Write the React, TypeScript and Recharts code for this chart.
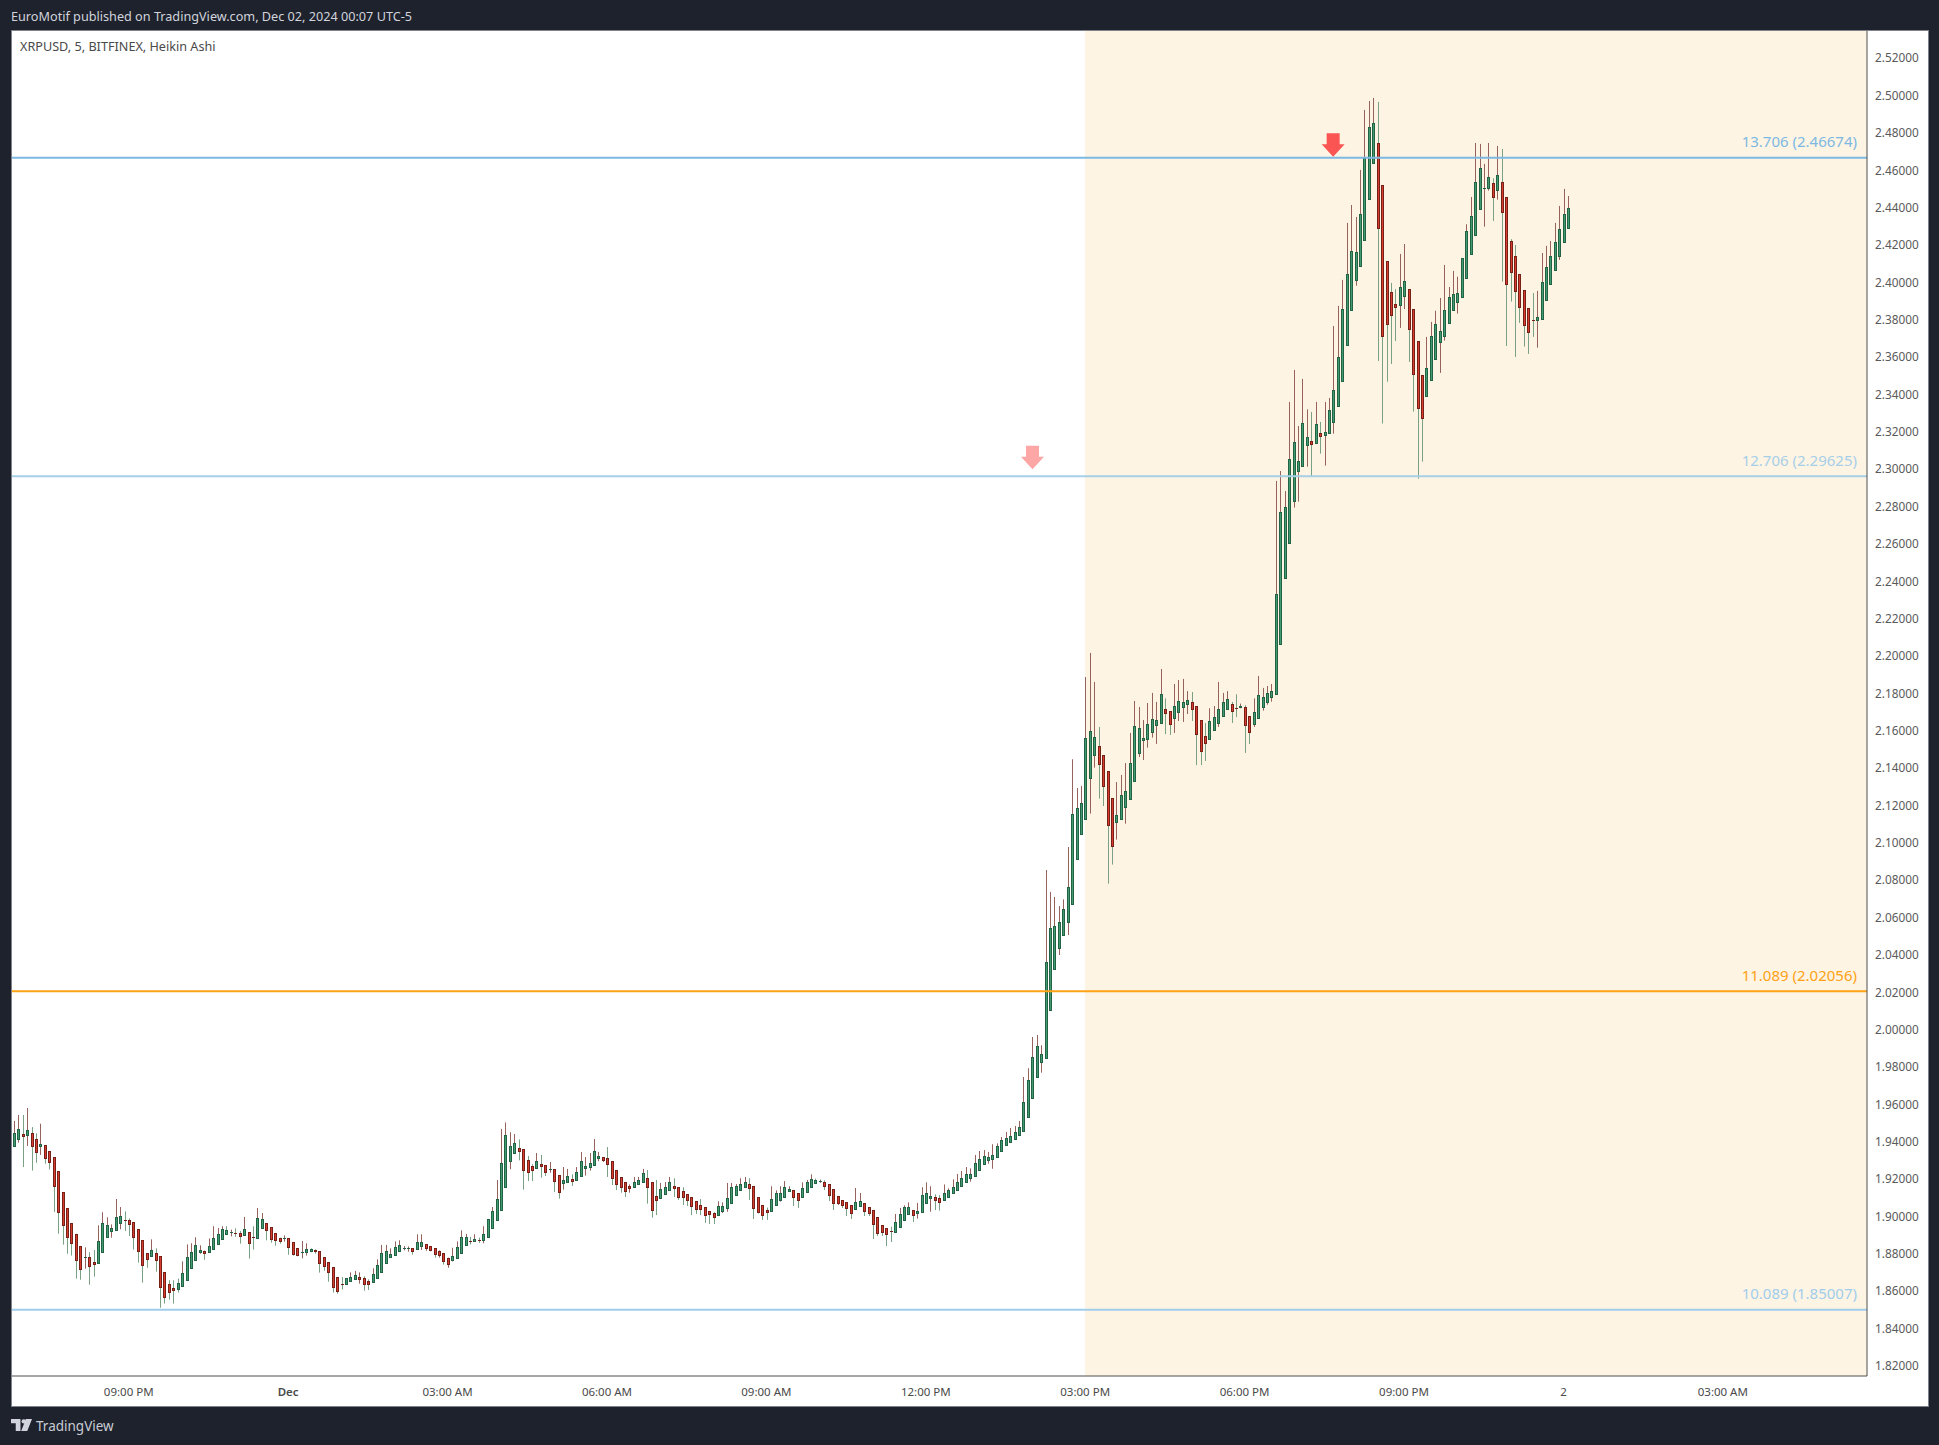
import React from 'react';
import { ComposedChart, Bar, XAxis, YAxis, ReferenceLine, ReferenceArea, ReferenceDot } from 'recharts';

const FONT = '"Noto Sans", sans-serif';

// 5 minute Heikin Ashi candles, one per index
const opens = [
  1.9379,1.9412,1.9440,1.9433,1.9446,1.9413,1.9374,1.9381,1.9349,1.9317,
  1.9242,1.9130,1.9044,1.8964,1.8908,1.8841,1.8780,1.8782,1.8755,1.8748,
  1.8807,1.8887,1.8919,1.8924,1.8962,1.8980,1.8980,1.8969,1.8932,1.8873,
  1.8803,1.8785,1.8803,1.8787,1.8701,1.8637,1.8616,1.8609,1.8625,1.8657,
  1.8721,1.8764,1.8807,1.8814,1.8807,1.8823,1.8849,1.8876,1.8903,1.8914,
  1.8910,1.8910,1.8898,1.8916,1.8889,1.8883,1.8935,1.8964,1.8942,1.8910,
  1.8887,1.8882,1.8883,1.8862,1.8830,1.8807,1.8807,1.8812,1.8819,1.8814,
  1.8782,1.8755,1.8728,1.8675,1.8637,1.8637,1.8651,1.8664,1.8675,1.8669,
  1.8653,1.8646,1.8668,1.8700,1.8750,1.8782,1.8792,1.8814,1.8828,1.8828,
  1.8830,1.8825,1.8841,1.8851,1.8841,1.8830,1.8814,1.8803,1.8780,1.8764,
  1.8776,1.8803,1.8846,1.8867,1.8867,1.8873,1.8873,1.8889,1.8937,1.8980,
  1.9033,1.9156,1.9296,1.9339,1.9365,1.9360,1.9301,1.9269,1.9256,1.9280,
  1.9274,1.9251,1.9253,1.9221,1.9176,1.9181,1.9199,1.9194,1.9214,1.9256,
  1.9262,1.9272,1.9310,1.9317,1.9312,1.9296,1.9248,1.9210,1.9183,1.9162,
  1.9155,1.9172,1.9181,1.9205,1.9183,1.9108,1.9098,1.9117,1.9139,1.9162,
  1.9157,1.9135,1.9119,1.9103,1.9082,1.9060,1.9049,1.9028,1.9017,1.9005,
  1.9026,1.9042,1.9069,1.9114,1.9139,1.9155,1.9172,1.9162,1.9103,1.9060,
  1.9033,1.9026,1.9058,1.9089,1.9106,1.9133,1.9140,1.9124,1.9101,1.9128,
  1.9155,1.9178,1.9187,1.9183,1.9172,1.9146,1.9108,1.9087,1.9076,1.9060,
  1.9037,1.9053,1.9071,1.9049,1.9033,1.8996,1.8953,1.8937,1.8921,1.8914,
  1.8941,1.8978,1.9010,1.9033,1.9016,1.9021,1.9069,1.9096,1.9103,1.9098,
  1.9085,1.9103,1.9123,1.9140,1.9160,1.9181,1.9205,1.9214,1.9248,1.9280,
  1.9299,1.9305,1.9317,1.9349,1.9381,1.9397,1.9413,1.9435,1.9456,1.9529,
  1.9631,1.9744,1.9824,1.9847,2.0104,2.0324,2.0434,2.0506,2.0573,2.0670,
  2.0912,2.1046,2.1127,2.1346,2.1467,2.1517,2.1469,2.1383,2.1239,2.1110,
  2.1125,2.1191,2.1234,2.1330,2.1480,2.1549,2.1555,2.1592,2.1630,2.1640,
  2.1715,2.1705,2.1667,2.1699,2.1726,2.1742,2.1753,2.1731,2.1656,2.1571,
  2.1555,2.1603,2.1640,2.1678,2.1715,2.1742,2.1721,2.1721,2.1726,2.1678,
  2.1635,2.1667,2.1724,2.1751,2.1780,2.1796,2.2063,2.2417,2.2604,2.2827,
  2.2989,2.3016,2.3129,2.3150,2.3139,2.3193,2.3182,2.3193,2.3252,2.3337,
  2.3471,2.3664,2.3851,2.4012,2.4087,2.4226,2.4446,2.4638,2.4745,2.4520,
  2.4114,2.3948,2.3883,2.3878,2.3926,2.3964,2.3857,2.3685,2.3503,2.3391,
  2.3477,2.3589,2.3680,2.3711,2.3782,2.3851,2.3894,2.3921,2.4023,2.4151,
  2.4253,2.4392,2.4503,2.4504,2.4531,2.4494,2.4537,2.4456,2.4221,2.4140,
  2.4044,2.3958,2.3861,2.3798,2.3798,2.3803,2.3905,2.3991,2.4065,2.4139,2.4215,2.4290,
];

const closes = [
  1.9446,1.9467,1.9428,1.9462,1.9379,1.9342,1.9387,1.9310,1.9288,1.9160,
  1.9021,1.8951,1.8887,1.8855,1.8769,1.8716,1.8782,1.8732,1.8743,1.8867,
  1.8964,1.8953,1.8937,1.8996,1.9001,1.8978,1.8957,1.8887,1.8812,1.8737,
  1.8769,1.8819,1.8764,1.8619,1.8566,1.8593,1.8603,1.8643,1.8696,1.8782,
  1.8809,1.8846,1.8819,1.8801,1.8841,1.8883,1.8905,1.8932,1.8926,1.8916,
  1.8908,1.8892,1.8932,1.8855,1.8887,1.8991,1.8985,1.8924,1.8876,1.8871,
  1.8871,1.8883,1.8833,1.8796,1.8791,1.8809,1.8825,1.8825,1.8809,1.8748,
  1.8732,1.8700,1.8619,1.8598,1.8635,1.8669,1.8675,1.8685,1.8664,1.8635,
  1.8635,1.8691,1.8739,1.8803,1.8814,1.8798,1.8835,1.8846,1.8830,1.8830,
  1.8812,1.8862,1.8862,1.8830,1.8819,1.8798,1.8791,1.8759,1.8748,1.8787,
  1.8835,1.8889,1.8889,1.8866,1.8878,1.8871,1.8905,1.8985,1.9028,1.9092,
  1.9285,1.9435,1.9376,1.9392,1.9349,1.9246,1.9235,1.9246,1.9296,1.9267,
  1.9235,1.9253,1.9187,1.9128,1.9194,1.9215,1.9187,1.9237,1.9296,1.9269,
  1.9285,1.9349,1.9322,1.9299,1.9278,1.9203,1.9171,1.9155,1.9133,1.9149,
  1.9183,1.9194,1.9231,1.9155,1.9032,1.9085,1.9146,1.9157,1.9183,1.9149,
  1.9106,1.9101,1.9085,1.9053,1.9037,1.9037,1.9005,1.9010,1.8994,1.9055,
  1.9055,1.9098,1.9157,1.9162,1.9172,1.9183,1.9151,1.9042,1.9021,1.9005,
  1.9021,1.9092,1.9124,1.9124,1.9157,1.9146,1.9101,1.9085,1.9151,1.9183,
  1.9199,1.9194,1.9189,1.9160,1.9112,1.9069,1.9069,1.9058,1.9042,1.9016,
  1.9076,1.9082,1.9026,1.9016,1.8957,1.8908,1.8914,1.8903,1.8919,1.8969,
  1.9012,1.9049,1.9049,1.9005,1.9028,1.9114,1.9124,1.9108,1.9085,1.9074,
  1.9124,1.9140,1.9157,1.9183,1.9205,1.9226,1.9226,1.9285,1.9306,1.9322,
  1.9317,1.9328,1.9376,1.9408,1.9419,1.9429,1.9451,1.9478,1.9611,1.9729,
  1.9852,1.9911,1.9868,2.0361,2.0543,2.0554,2.0575,2.0645,2.0762,2.1153,
  2.1185,2.1212,2.1560,2.1597,2.1565,2.1419,2.1303,2.1094,2.0982,2.1148,
  2.1255,2.1276,2.1426,2.1624,2.1614,2.1560,2.1635,2.1662,2.1656,2.1796,
  2.1694,2.1635,2.1731,2.1758,2.1753,2.1763,2.1715,2.1581,2.1490,2.1533,
  2.1651,2.1673,2.1715,2.1753,2.1769,2.1705,2.1719,2.1731,2.1630,2.1592,
  2.1699,2.1790,2.1780,2.1801,2.1812,2.2331,2.2770,2.2797,2.3054,2.3145,
  2.3043,2.3246,2.3171,2.3134,2.3241,2.3177,2.3198,2.3316,2.3423,2.3600,
  2.3858,2.4046,2.4167,2.4162,2.4365,2.4665,2.4831,2.4852,2.4289,2.3712,
  2.3777,2.3825,2.3866,2.3974,2.4006,2.3750,2.3509,2.3326,2.3271,2.3541,
  2.3714,2.3776,2.3738,2.3851,2.3921,2.3937,2.3942,2.4130,2.4274,2.4355,
  2.4537,2.4611,2.4504,2.4563,2.4456,2.4574,2.4376,2.3991,2.4053,2.3953,
  2.3866,2.3769,2.3732,2.3796,2.3814,2.4001,2.4081,2.4140,2.4215,2.4285,2.4365,2.4397,
];

const highs = [
  1.9512,1.9544,1.9544,1.9581,1.9479,1.9446,1.9497,1.9381,1.9349,1.9317,
  1.9242,1.9130,1.9044,1.8964,1.8908,1.8841,1.8835,1.8809,1.8821,1.8953,
  1.9023,1.8996,1.8958,1.9094,1.9051,1.9028,1.8990,1.8969,1.8932,1.8873,
  1.8803,1.8878,1.8830,1.8787,1.8701,1.8659,1.8659,1.8668,1.8760,1.8851,
  1.8857,1.8889,1.8846,1.8819,1.8883,1.8948,1.8939,1.8948,1.8948,1.8930,
  1.8937,1.8923,1.8998,1.8916,1.8948,1.9046,1.9019,1.8964,1.8942,1.8910,
  1.8887,1.8899,1.8883,1.8862,1.8830,1.8869,1.8857,1.8830,1.8825,1.8814,
  1.8782,1.8755,1.8728,1.8675,1.8676,1.8669,1.8701,1.8709,1.8701,1.8680,
  1.8664,1.8723,1.8771,1.8848,1.8848,1.8830,1.8867,1.8873,1.8842,1.8840,
  1.8830,1.8905,1.8905,1.8851,1.8841,1.8830,1.8819,1.8803,1.8780,1.8833,
  1.8867,1.8926,1.8907,1.8891,1.8905,1.8887,1.8948,1.8985,1.9051,1.9196,
  1.9469,1.9504,1.9451,1.9442,1.9413,1.9360,1.9324,1.9280,1.9340,1.9330,
  1.9274,1.9292,1.9253,1.9221,1.9265,1.9255,1.9226,1.9265,1.9346,1.9319,
  1.9340,1.9415,1.9346,1.9317,1.9372,1.9296,1.9248,1.9210,1.9183,1.9172,
  1.9212,1.9212,1.9255,1.9249,1.9183,1.9196,1.9180,1.9185,1.9212,1.9205,
  1.9157,1.9157,1.9119,1.9103,1.9082,1.9094,1.9049,1.9028,1.9023,1.9082,
  1.9076,1.9180,1.9180,1.9174,1.9205,1.9212,1.9205,1.9162,1.9103,1.9060,
  1.9048,1.9162,1.9140,1.9162,1.9190,1.9162,1.9140,1.9124,1.9183,1.9196,
  1.9226,1.9203,1.9198,1.9194,1.9172,1.9146,1.9108,1.9087,1.9076,1.9060,
  1.9153,1.9126,1.9071,1.9049,1.9033,1.8996,1.8953,1.8937,1.8946,1.9014,
  1.9046,1.9060,1.9076,1.9033,1.9073,1.9157,1.9183,1.9162,1.9119,1.9114,
  1.9172,1.9151,1.9199,1.9228,1.9244,1.9265,1.9258,1.9330,1.9351,1.9356,
  1.9346,1.9387,1.9392,1.9426,1.9453,1.9474,1.9485,1.9512,1.9747,1.9794,
  1.9961,1.9972,1.9917,2.0855,2.0738,2.0711,2.0662,2.0698,2.0978,2.1448,
  2.1294,2.1305,2.1888,2.2017,2.1862,2.1621,2.1469,2.1383,2.1239,2.1326,
  2.1364,2.1428,2.1589,2.1760,2.1728,2.1658,2.1749,2.1803,2.1755,2.1931,
  2.1774,2.1705,2.1851,2.1872,2.1878,2.1813,2.1808,2.1731,2.1656,2.1642,
  2.1721,2.1733,2.1862,2.1803,2.1813,2.1755,2.1796,2.1746,2.1737,2.1678,
  2.1774,2.1894,2.1830,2.1840,2.1851,2.2938,2.2991,2.2884,2.3361,2.3532,
  2.3232,2.3484,2.3321,2.3307,2.3361,2.3254,2.3361,2.3382,2.3767,2.3875,
  2.4014,2.4319,2.4415,2.4351,2.4603,2.4924,2.4972,2.4988,2.4967,2.4520,
  2.4114,2.3998,2.3964,2.4153,2.4206,2.3964,2.3857,2.3685,2.3503,2.3709,
  2.3789,2.3849,2.3917,2.4094,2.3976,2.4062,2.4031,2.4130,2.4312,2.4458,
  2.4747,2.4742,2.4635,2.4747,2.4558,2.4731,2.4715,2.4456,2.4232,2.4201,
  2.4044,2.3958,2.3861,2.3944,2.3955,2.4158,2.4196,2.4222,2.4319,2.4410,2.4501,2.4463,
];

const lows = [
  1.9379,1.9396,1.9265,1.9378,1.9246,1.9288,1.9330,1.9283,1.9252,1.9024,
  1.8908,1.8850,1.8801,1.8791,1.8668,1.8662,1.8721,1.8635,1.8678,1.8748,
  1.8807,1.8887,1.8887,1.8924,1.8932,1.8923,1.8896,1.8823,1.8753,1.8646,
  1.8726,1.8785,1.8705,1.8512,1.8534,1.8555,1.8534,1.8593,1.8625,1.8657,
  1.8721,1.8764,1.8801,1.8769,1.8807,1.8823,1.8849,1.8876,1.8901,1.8894,
  1.8891,1.8855,1.8898,1.8775,1.8823,1.8883,1.8935,1.8873,1.8860,1.8844,
  1.8855,1.8866,1.8796,1.8791,1.8787,1.8776,1.8791,1.8809,1.8801,1.8700,
  1.8710,1.8651,1.8593,1.8587,1.8609,1.8635,1.8651,1.8662,1.8641,1.8603,
  1.8607,1.8646,1.8668,1.8700,1.8750,1.8782,1.8792,1.8814,1.8819,1.8812,
  1.8796,1.8821,1.8821,1.8817,1.8814,1.8780,1.8780,1.8743,1.8726,1.8760,
  1.8776,1.8803,1.8846,1.8851,1.8866,1.8858,1.8857,1.8889,1.8937,1.8980,
  1.9033,1.9156,1.9253,1.9339,1.9301,1.9144,1.9190,1.9190,1.9256,1.9208,
  1.9217,1.9235,1.9132,1.9096,1.9144,1.9181,1.9164,1.9194,1.9214,1.9219,
  1.9246,1.9272,1.9296,1.9292,1.9212,1.9169,1.9142,1.9128,1.9105,1.9128,
  1.9155,1.9172,1.9181,1.9069,1.8994,1.9008,1.9098,1.9117,1.9139,1.9105,
  1.9089,1.9062,1.9057,1.9008,1.9014,1.9008,1.8966,1.8960,1.8960,1.9005,
  1.9019,1.9026,1.9069,1.9114,1.9139,1.9155,1.9089,1.8987,1.9016,1.8982,
  1.8982,1.9026,1.9058,1.9080,1.9106,1.9133,1.9057,1.9046,1.9101,1.9128,
  1.9155,1.9176,1.9180,1.9142,1.9083,1.9035,1.9062,1.9046,1.9003,1.8987,
  1.9037,1.9053,1.9003,1.9003,1.8880,1.8896,1.8896,1.8842,1.8864,1.8914,
  1.8941,1.8978,1.9010,1.8971,1.8989,1.9021,1.9069,1.9026,1.9035,1.9032,
  1.9085,1.9103,1.9123,1.9140,1.9160,1.9181,1.9187,1.9214,1.9248,1.9280,
  1.9283,1.9256,1.9317,1.9349,1.9381,1.9397,1.9413,1.9435,1.9456,1.9529,
  1.9631,1.9744,1.9770,1.9847,2.0104,2.0324,2.0400,2.0506,2.0507,2.0670,
  2.0912,2.1046,2.1127,2.1157,2.1403,2.1237,2.1198,2.0782,2.0884,2.1018,
  2.1125,2.1103,2.1234,2.1330,2.1460,2.1444,2.1510,2.1564,2.1530,2.1640,
  2.1583,2.1578,2.1589,2.1653,2.1648,2.1690,2.1653,2.1417,2.1417,2.1439,
  2.1555,2.1603,2.1621,2.1678,2.1715,2.1642,2.1674,2.1721,2.1482,2.1530,
  2.1621,2.1667,2.1708,2.1740,2.1756,2.1796,2.2063,2.2417,2.2604,2.2795,
  2.2827,2.3016,2.3014,2.2961,2.3139,2.3084,2.3020,2.3193,2.3191,2.3337,
  2.3471,2.3664,2.3851,2.3983,2.4087,2.4226,2.4446,2.4638,2.3580,2.3245,
  2.3469,2.3564,2.3687,2.3757,2.3858,2.3575,2.3309,2.2950,2.3041,2.3391,
  2.3477,2.3589,2.3516,2.3689,2.3782,2.3851,2.3834,2.3921,2.4023,2.4151,
  2.4253,2.4392,2.4299,2.4492,2.4330,2.4444,2.4005,2.3660,2.3898,2.3602,
  2.3784,2.3657,2.3618,2.3709,2.3651,2.3803,2.3905,2.3991,2.4065,2.4121,2.4215,2.4290,
];

// candles whose wick has the same colour as the body (normally it is the opposite one)
const sameColourWicks = [37, 48, 67, 75, 78, 93, 96, 98, 133, 139, 181, 186];

const priceTicks = [
  1.82, 1.84, 1.86, 1.88, 1.90, 1.92, 1.94, 1.96, 1.98, 2.00, 2.02, 2.04, 2.06, 2.08, 2.10, 2.12, 2.14, 2.16,
  2.18, 2.20, 2.22, 2.24, 2.26, 2.28, 2.30, 2.32, 2.34, 2.36, 2.38, 2.40, 2.42, 2.44, 2.46, 2.48, 2.50, 2.52,
];
const timeTicks = [26, 62, 98, 134, 170, 206, 242, 278, 314, 350, 386];
const timeLabels = ['09:00 PM', 'Dec', '03:00 AM', '06:00 AM', '09:00 AM', '12:00 PM', '03:00 PM', '06:00 PM', '09:00 PM', '2', '03:00 AM'];

const levelPrices = [2.46674, 2.29625, 2.02056, 1.85007];
const levelLabels = ['13.706 (2.46674)', '12.706 (2.29625)', '11.089 (2.02056)', '10.089 (1.85007)'];
const levelColors = ['#7db8e2', '#a6cfe8', '#ffa215', '#a0cdec'];

const arrowIndexes = [298, 230.1];
const arrowPrices = [2.4673, 2.3];
const arrowColors = ['#fa5553', '#fca6a5'];

const candles = opens.map((open, i) => ({ idx: i, open, close: closes[i], high: highs[i], low: lows[i] }));

const X_DOMAIN = [-0.365, 418.56];
const Y_DOMAIN = [1.81465, 2.53464];
const ZONE_START = 241.95;

const GREEN = { fill: '#429a70', border: '#226245', wick: '#7aa085' };
const RED = { fill: '#d83c2e', border: '#762018', wick: '#96625c' };

function Candle(props: any) {
  const { x, y, width, height, payload } = props;
  const { open, close, high, low, idx } = payload;
  const top = Math.min(y, y + height);
  const range = Math.abs(height);
  const cx = Math.round(x + width / 2) + 0.5;
  const pxPerPrice = range / (high - low || 1);
  const bodyTop = top + (high - Math.max(open, close)) * pxPerPrice;
  const bodyH = Math.abs(open - close) * pxPerPrice;
  const up = close >= open;
  const c = up ? GREEN : RED;
  const wickSame = sameColourWicks.includes(idx);
  const wick = up === wickSame ? GREEN.wick : RED.wick;

  // 도지는 가로 막대로만 보인다
  if (bodyH < 2) {
    return (
      <g>
        <line x1={cx} x2={cx} y1={top} y2={top + range} stroke={wick} />
        <rect x={cx - 1.5} y={Math.round(bodyTop)} width={3} height={Math.max(1, Math.round(bodyH))} fill={c.border} shapeRendering="crispEdges" />
      </g>
    );
  }
  return (
    <g>
      <line x1={cx} x2={cx} y1={top} y2={top + range} stroke={wick} />
      <rect x={cx - 1} y={Math.round(bodyTop) + 0.5} width={2} height={Math.round(bodyH)} fill={c.fill} stroke={c.border} shapeRendering="crispEdges" />
    </g>
  );
}

function Arrow({ cx, cy, color }: any) {
  const d = `M${cx - 6.5} ${cy - 23.5} H${cx + 6.5} V${cy - 12.5} H${cx + 11.5} L${cx} ${cy} L${cx - 11.5} ${cy - 12.5} H${cx - 6.5} Z`;
  return <path d={d} fill={color} />;
}

function LevelLabel({ viewBox, text, color }: any) {
  return (
    <text x={viewBox.x + viewBox.width - 10} y={viewBox.y - 16} dy="0.35em" textAnchor="end" fill={color} fontSize={15} fontFamily={FONT}>
      {text}
    </text>
  );
}

function TimeTick({ x, y, payload }: any) {
  const label = timeLabels[timeTicks.indexOf(payload.value)];
  return (
    <text x={x} y={y + 12} textAnchor="middle" fill="#4a4a4a" fontSize={11.5} fontFamily={FONT} fontWeight={label === 'Dec' ? 600 : 400}>
      {label}
    </text>
  );
}

function PriceTick({ x, y, payload }: any) {
  return (
    <text x={x} y={y} dy="0.35em" fill="#5a5a5a" fontSize={11.8} fontFamily={FONT}>
      {payload.value.toFixed(5)}
    </text>
  );
}

export default function App() {
  return (
    <div style={{ position: 'absolute', left: 0, top: 0, width: 1939, height: 1445, background: '#1e222d', fontFamily: FONT, overflow: 'hidden' }}>
      <div style={{ position: 'absolute', left: 11, top: 7, color: '#d1d4dc', fontSize: 12.66, whiteSpace: 'nowrap' }}>
        EuroMotif published on TradingView.com, Dec 02, 2024 00:07 UTC-5
      </div>
      <div style={{ position: 'absolute', left: 11, top: 30, width: 1916, height: 1375, background: '#fff', border: '1px solid #7f828b' }} />
      <div style={{ position: 'absolute', left: 0, top: 0 }}>
        <ComposedChart
          width={1939}
          height={1445}
          data={candles}
          margin={{ top: 31, left: 12, right: 11, bottom: 39 }}
        >
          <XAxis
            type="number"
            dataKey="idx"
            domain={X_DOMAIN}
            allowDataOverflow
            ticks={timeTicks}
            tick={<TimeTick />}
            tickLine={false}
            height={30}
            stroke="#4e4e4e"
          />
          <YAxis
            type="number"
            orientation="right"
            domain={Y_DOMAIN}
            allowDataOverflow
            ticks={priceTicks}
            interval={0}
            tick={<PriceTick />}
            tickLine={false}
            tickMargin={2}
            width={61}
            stroke="#4e4e4e"
          />
          <ReferenceArea x1={ZONE_START} x2={X_DOMAIN[1]} fill="#fef4e4" fillOpacity={1} stroke="none" />
          {levelPrices.map((p, i) => (
            <ReferenceLine
              key={p}
              y={p}
              stroke={levelColors[i]}
              strokeWidth={2}
              label={<LevelLabel text={levelLabels[i]} color={levelColors[i]} />}
            />
          ))}
          <Bar dataKey={(d: any) => [d.low, d.high]} barSize={3} shape={<Candle />} isAnimationActive={false} />
          {arrowIndexes.map((x, i) => (
            <ReferenceDot key={x} x={x} y={arrowPrices[i]} r={0} shape={<Arrow color={arrowColors[i]} />} />
          ))}
        </ComposedChart>
      </div>
      <div style={{ position: 'absolute', left: 20, top: 37, color: '#4a4a4a', fontSize: 12.65, whiteSpace: 'nowrap' }}>
        XRPUSD, 5, BITFINEX, Heikin Ashi
      </div>
      <svg style={{ position: 'absolute', left: 11, top: 1419 }} width={21} height={12} viewBox="0 0 31 20" preserveAspectRatio="none">
        <path d="M0 0H14V20H7V7H0Z M22 0L15 20H24L31 0Z" fill="#d1d4dc" />
        <circle cx="19" cy="4" r="3.5" fill="#d1d4dc" />
      </svg>
      <div style={{ position: 'absolute', left: 36, top: 1417, color: '#c9ccd4', fontSize: 13.5, whiteSpace: 'nowrap' }}>TradingView</div>
    </div>
  );
}
